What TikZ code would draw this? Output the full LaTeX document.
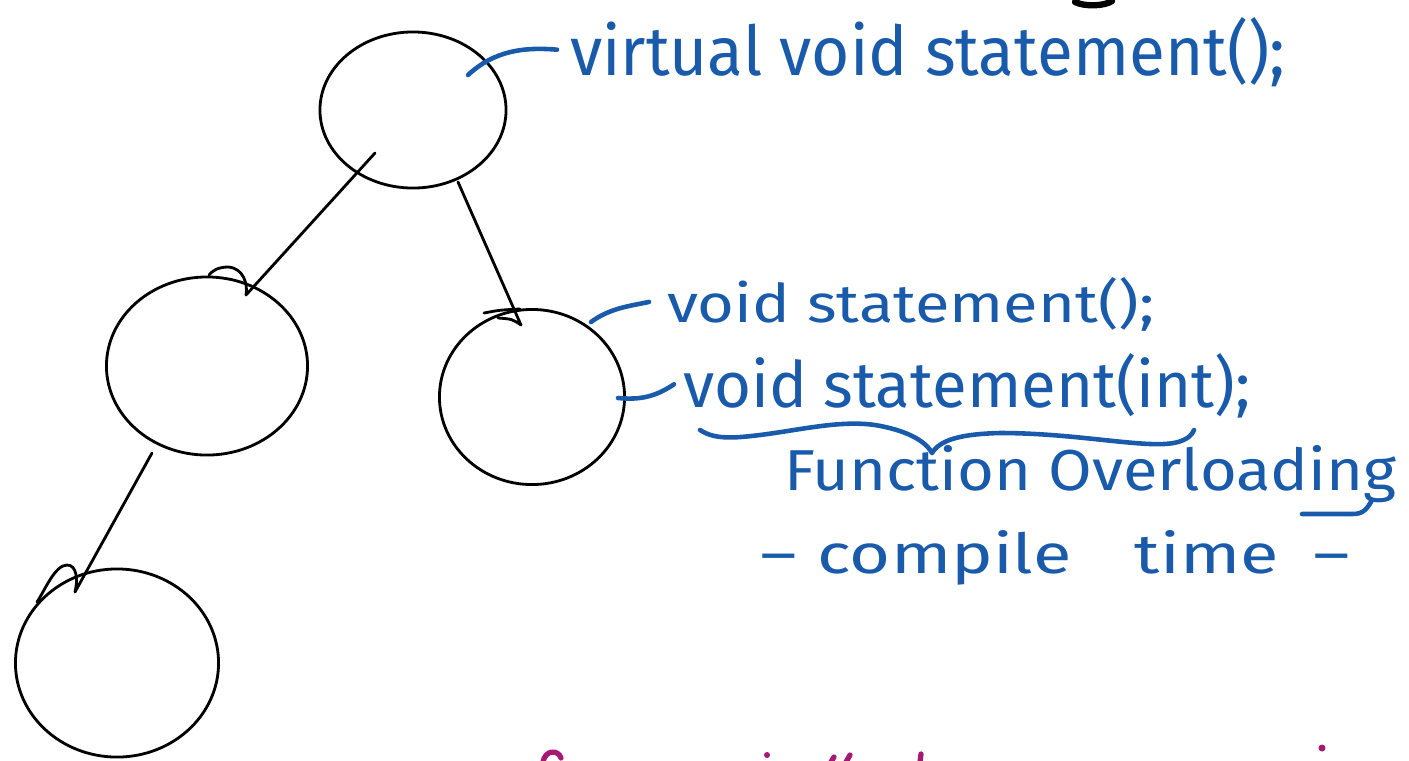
\documentclass[tikz,border=0pt]{standalone}
\usepackage{fontspec}
\setmainfont{Fira Sans}
\usetikzlibrary{shapes.geometric,calc}
\definecolor{ink}{RGB}{25,90,170}
\definecolor{plum}{RGB}{165,25,115}

\begin{document}
\begin{tikzpicture}[x=0.01cm,y=-0.01cm,
  tree/.style={ellipse,draw=black,line width=0.8pt,inner sep=0pt},
  edge/.style={draw=black,line width=0.8pt,line cap=round,line join=round},
  lead/.style={draw=ink,line width=1.3pt,line cap=round,line join=round},
  note/.style={text=ink,anchor=base west,inner sep=0pt,outer sep=0pt},
  scrap/.style={draw=plum,line width=1.5pt,line cap=round}]
\useasboundingbox (0,0) rectangle (1409,760);

% tree nodes
\node[tree,minimum width=1.86cm,minimum height=1.56cm] (root)  at (413,110) {};
\node[tree,minimum width=2.01cm,minimum height=1.78cm] (left)  at (207,366) {};
\node[tree,minimum width=1.85cm,minimum height=1.75cm] (right) at (532,397) {};
\node[tree,minimum width=2.03cm,minimum height=1.88cm] (leaf)  at (117,663) {};

% hand-drawn connectors with hooked tips
\draw[edge] ($(root.center)+(-38,43)$) -- ($(left.center)+(39,-71)$) coordinate (t1)
  .. controls ($(t1)+(2,-10)$) and ($(t1)+(-2,-27)$) .. ($(t1)+(-18,-28)$)
  .. controls ($(t1)+(-28,-28)$) and ($(t1)+(-34,-24)$) .. ($(t1)+(-37,-20)$);
\draw[edge] ($(root.center)+(45,72)$) -- ($(right.center)+(-11,-72)$) coordinate (t2)
  .. controls ($(t2)+(-9,-6)$) .. ($(t2)+(-23,-7)$);
\draw[edge] ($(right.center)+(-48,-84)$) .. controls ($(right.center)+(-32,-87)$) .. ($(right.center)+(-12,-88)$);
\draw[edge] ($(left.center)+(-55,87)$) -- ($(leaf.center)+(-42,-71)$) coordinate (t3)
  .. controls ($(t3)+(3,-12)$) and ($(t3)+(2,-27)$) .. ($(t3)+(-8,-27)$)
  .. controls ($(t3)+(-20,-27)$) and ($(t3)+(-30,-2)$) .. ($(t3)+(-38,10)$);

% annotations
\node[note] (s0) at (570,75)  {\resizebox{7.15cm}{0.58cm}{virtual void statement();}};
\node[note] (s1) at (667,322) {\resizebox{4.87cm}{0.45cm}{void statement();}};
\node[note] (s2) at (683,407) {\resizebox{5.67cm}{0.54cm}{void statement(int);}};
\node[note] (s3) at (784,490) {\resizebox{6.12cm}{0.45cm}{Function Overloading}};
\node[note] (s4) at (760,573) {\resizebox{5.90cm}{0.43cm}{–\hspace{0.3em}compile\hspace{0.9em}time\hspace{0.5em}–}};

% leader lines from nodes to their notes
\coordinate (e0) at ($(s0.west)+(-13,-2)$);
\draw[lead] ($(root.center)+(55,-35)$) .. controls ($(root.center)+(82,-60)$) and ($(root.center)+(112,-63)$) .. (e0);
\coordinate (e1) at ($(s1.west)+(-18,-2)$);
\draw[lead] ($(right.center)+(59,-75)$) .. controls ($(right.center)+(78,-89)$) and ($(right.center)+(98,-91)$) .. (e1);
\coordinate (e2) at ($(s2.west)+(-9,-1)$);
\draw[lead] ($(right.center)+(86,1)$) .. controls ($(right.center)+(108,3)$) and ($(right.center)+(123,0)$) .. (e2);

% brace under the two overloads
\draw[lead] (700,430) .. controls (715,440) and (735,438) .. (760,435)
  .. controls (800,430) and (840,420) .. (875,425)
  .. controls (905,430) and (925,440) .. (932,453)
  .. controls (940,440) and (960,434) .. (1000,433)
  .. controls (1080,433) and (1150,450) .. (1178,442)
  .. controls (1188,439) and (1192,435) .. (1194,430);

% tail of the g
\draw[lead] (1372,500) .. controls (1366,511) and (1362,514) .. (1352,514) -- (1302,514);

% pen marks running off the page edges
\draw[black,line width=1.8pt,line cap=round] (1075,2) .. controls (1085,7) and (1105,6) .. (1112,1);
\draw[scrap] (543,762) .. controls (545,750) and (558,749) .. (561,758);
\fill[plum] (767,755) circle (3);
\draw[scrap] (831,762) -- (834,757);
\draw[scrap] (846,762) -- (850,755);
\draw[scrap] (920,762) -- (921,754);
\fill[plum] (1322,748) circle (3.5);
\end{tikzpicture}
\end{document}
